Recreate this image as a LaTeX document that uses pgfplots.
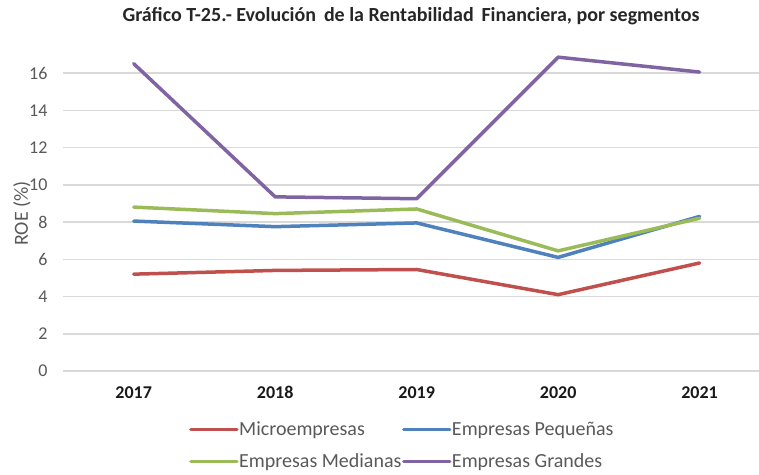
\documentclass[border=0pt]{standalone}
\usepackage{pgfplots}
\pgfplotsset{compat=1.18}
\usepackage{fontspec}
\setmainfont{Carlito}
\definecolor{cRed}{HTML}{C0504D}
\definecolor{cBlue}{HTML}{4F81BD}
\definecolor{cGreen}{HTML}{9BBB59}
\definecolor{cPurple}{HTML}{8064A2}
\definecolor{cGrid}{HTML}{D9D9D9}
\definecolor{cText}{HTML}{595959}
\begin{document}
\begin{tikzpicture}
\path[use as bounding box] (-63pt,-103pt) rectangle (696pt,371pt);
\begin{axis}[
  at={(0,0)}, anchor=south west,
  scale only axis, width=696pt, height=335.25pt,
  xmin=-0.5, xmax=4.42, ymin=0, ymax=18,
  axis line style={draw=none},
  xtick={0,1,2,3,4}, xticklabels={2017,2018,2019,2020,2021},
  ytick={0,2,...,16},
  ymajorgrids, grid style={cGrid, line width=1.5pt},
  major tick length=0pt,
  clip=false,
  /pgf/number format/assume math mode=true,
  yticklabel style={font=\fontsize{18}{21}\selectfont, text=cText, xshift=-12pt},
  xticklabel style={font=\bfseries\fontsize{18}{21}\selectfont, text=black!90, yshift=-12pt},
  ylabel={ROE (\%)},
  ylabel style={at={(axis description cs:-0.059,0.47)}, anchor=center, font=\fontsize{20}{24}\selectfont, text=cText},
  title={Gráfico T-25.- Evolución\, de la Rentabilidad\, Financiera, por segmentos},
  title style={at={(axis description cs:0.5,1)}, anchor=center, yshift=14pt, font=\bfseries\fontsize{20}{24}\selectfont, text=black!85},
  legend columns=2,
  legend cell align=left,
  legend style={at={(axis description cs:0,0)}, anchor=north west, xshift=126pt, yshift=-50pt,
    draw=none, fill=none, inner sep=0pt, font=\fontsize{20}{24}\selectfont, text=cText,
    column sep=0pt, row sep=16pt,
    nodes={inner sep=0.5pt, outer sep=0pt}},
  legend image code/.code={\draw[#1, line width=3.5pt] (0pt,0pt) -- (46pt,0pt);},
  every axis plot/.append style={line width=3.5pt, line join=round, line cap=round},
]
\addplot[cRed, mark=none] coordinates {(0,5.2) (1,5.4) (2,5.45) (3,4.1) (4,5.8)};
\addlegendentry{Microempresas}
\addplot[cBlue, mark=none] coordinates {(0,8.05) (1,7.75) (2,7.95) (3,6.1) (4,8.3)};
\addlegendentry{Empresas Pequeñas}
\addplot[cGreen, mark=none] coordinates {(0,8.8) (1,8.45) (2,8.7) (3,6.45) (4,8.2)};
\addlegendentry{Empresas Medianas}
\addplot[cPurple, mark=none] coordinates {(0,16.5) (1,9.35) (2,9.25) (3,16.85) (4,16.05)};
\addlegendentry{Empresas Grandes}
\end{axis}
\end{tikzpicture}
\end{document}
